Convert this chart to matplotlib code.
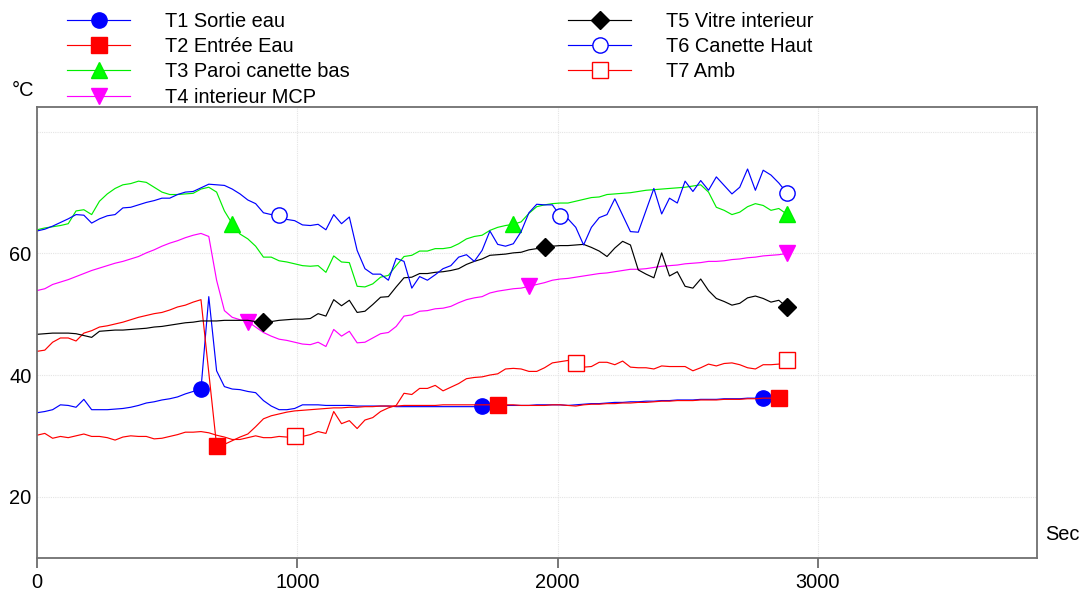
import numpy as np
import matplotlib.pyplot as plt

plt.rcParams["font.family"] = ["Liberation Sans", "DejaVu Sans"]

# sampling grid: one reading every 30 s
time = np.arange(0, 2881, 30)

t1_sortie_eau = [
    33.8, 34.0, 34.3, 35.1, 35.0, 34.7, 36.0, 34.3, 34.3, 34.3,
    34.4, 34.5, 34.7, 35.0, 35.4, 35.6, 35.9, 36.1, 36.4, 36.9,
    37.3, 37.7, 52.9, 40.7, 38.1, 37.7, 37.6, 37.3, 37.1, 35.8,
    34.9, 34.3, 34.3, 34.5, 35.1, 35.1, 35.1, 35.0, 35.0, 35.0,
    35.0, 34.9, 34.9, 34.9, 34.9, 34.9, 34.8, 34.8, 34.8, 34.8,
    34.8, 34.8, 34.8, 34.8, 34.8, 34.8, 34.8, 34.9, 34.9, 34.9,
    35.0, 35.0, 35.0, 35.0, 35.1, 35.1, 35.1, 35.1, 35.0, 35.1,
    35.2, 35.3, 35.3, 35.4, 35.5, 35.5, 35.6, 35.6, 35.7, 35.7,
    35.8, 35.8, 35.9, 35.9, 35.9, 36.0, 36.0, 36.0, 36.1, 36.1,
    36.1, 36.2, 36.2, 36.3, 36.3, 36.3, 36.3,
]
t2_entree_eau = [
    43.9, 44.1, 45.4, 46.1, 46.1, 45.6, 46.9, 47.3, 47.9, 48.1,
    48.4, 48.7, 49.1, 49.5, 49.8, 50.1, 50.3, 50.7, 51.2, 51.5,
    52.0, 52.4, 40.4, 28.4, 28.6, 29.2, 29.8, 30.3, 31.5, 32.8,
    33.3, 33.6, 33.9, 34.1, 34.2, 34.3, 34.4, 34.5, 34.6, 34.6,
    34.7, 34.7, 34.8, 34.8, 34.9, 34.9, 34.9, 35.0, 35.0, 35.0,
    35.0, 35.0, 35.1, 35.1, 35.1, 35.1, 35.1, 35.1, 35.1, 35.1,
    35.1, 35.1, 35.0, 35.0, 35.0, 35.0, 35.1, 35.1, 35.0, 34.9,
    35.1, 35.2, 35.2, 35.3, 35.3, 35.4, 35.4, 35.5, 35.5, 35.6,
    35.7, 35.7, 35.8, 35.8, 35.8, 35.9, 35.9, 35.9, 36.0, 36.0,
    36.0, 36.1, 36.1, 36.2, 36.2, 36.3, 36.3,
]
t3_paroi_bas = [
    63.9, 64.2, 64.4, 64.6, 64.9, 67.0, 67.2, 66.4, 68.6, 69.8,
    70.7, 71.3, 71.5, 71.9, 71.7, 70.9, 70.1, 69.7, 69.7, 69.8,
    69.9, 70.6, 70.9, 70.1, 67.0, 64.9, 63.2, 62.4, 61.2, 59.4,
    59.4, 58.8, 58.6, 58.3, 58.0, 57.9, 58.0, 56.9, 59.6, 58.6,
    58.5, 54.6, 54.5, 55.0, 56.1, 56.4, 58.0, 59.5, 59.7, 60.4,
    60.4, 60.8, 60.8, 61.0, 61.6, 62.4, 62.8, 63.0, 63.8, 64.3,
    64.6, 64.8, 65.2, 66.6, 67.7, 68.0, 68.2, 68.3, 68.3, 68.6,
    68.9, 69.2, 69.3, 69.7, 69.8, 69.9, 70.0, 70.2, 70.4, 70.5,
    70.6, 70.7, 70.8, 70.9, 71.1, 71.3, 70.1, 67.6, 67.1, 66.4,
    66.8, 67.7, 68.2, 67.9, 67.1, 67.4, 66.5,
]
t4_interieur_mcp = [
    53.9, 54.2, 54.9, 55.3, 55.7, 56.2, 56.7, 57.2, 57.6, 58.0,
    58.4, 58.7, 59.1, 59.5, 60.1, 60.6, 61.2, 61.7, 62.1, 62.6,
    63.0, 63.3, 62.8, 55.6, 50.6, 49.5, 49.1, 48.8, 47.9, 47.0,
    46.4, 45.9, 45.7, 45.4, 45.1, 45.0, 45.4, 44.7, 47.5, 46.4,
    47.2, 45.3, 45.4, 46.1, 46.8, 47.0, 48.0, 49.7, 49.9, 50.5,
    50.6, 50.9, 51.0, 51.3, 51.9, 52.4, 52.7, 52.9, 53.5, 53.8,
    54.0, 54.2, 54.3, 54.6, 54.9, 55.2, 55.6, 55.8, 55.9, 56.1,
    56.3, 56.5, 56.7, 56.8, 57.0, 57.2, 57.4, 57.4, 57.5, 57.7,
    57.9, 58.0, 58.1, 58.3, 58.4, 58.5, 58.7, 58.7, 58.8, 59.0,
    59.1, 59.3, 59.4, 59.6, 59.7, 59.8, 60.0,
]
t5_vitre_interieur = [
    46.7, 46.8, 46.9, 46.9, 46.9, 46.8, 46.5, 46.2, 47.2, 47.3,
    47.4, 47.4, 47.5, 47.6, 47.7, 47.9, 48.0, 48.2, 48.4, 48.6,
    48.7, 48.9, 48.9, 48.9, 49.0, 49.0, 49.0, 49.0, 48.8, 48.7,
    48.8, 49.0, 49.1, 49.2, 49.2, 49.3, 50.1, 49.7, 52.4, 51.4,
    52.3, 50.3, 50.5, 51.6, 52.8, 52.9, 54.5, 56.0, 56.1, 56.7,
    56.7, 56.9, 57.0, 57.2, 57.5, 58.2, 58.7, 59.1, 59.7, 59.8,
    59.9, 60.1, 60.2, 60.6, 60.8, 61.0, 61.2, 61.3, 61.3, 61.4,
    61.5, 61.0, 60.4, 59.5, 60.9, 62.0, 61.4, 57.3, 56.6, 56.0,
    60.1, 56.3, 57.0, 54.6, 54.3, 55.8, 53.9, 52.6, 52.1, 51.5,
    51.8, 52.7, 53.0, 52.6, 52.0, 52.3, 51.2,
]
t6_canette_haut = [
    63.7, 64.0, 64.5, 65.1, 65.7, 66.4, 66.3, 65.0, 65.7, 66.2,
    66.4, 67.5, 67.6, 68.0, 68.4, 68.7, 69.1, 69.1, 69.7, 70.1,
    70.2, 70.8, 71.4, 71.3, 71.2, 70.6, 69.8, 68.8, 68.2, 66.7,
    66.4, 66.3, 65.6, 65.4, 64.7, 64.6, 64.8, 63.9, 66.4, 64.9,
    66.0, 60.5, 57.5, 56.6, 56.6, 55.6, 59.2, 58.7, 54.3, 56.2,
    55.6, 56.5, 57.5, 58.0, 59.4, 59.8, 58.7, 60.5, 63.7, 61.5,
    61.2, 61.6, 63.6, 66.7, 68.1, 68.0, 68.0, 66.2, 65.7, 64.3,
    61.4, 64.3, 65.9, 66.4, 69.0, 66.3, 63.6, 63.5, 67.1, 70.7,
    66.5, 69.1, 68.3, 71.9, 70.2, 72.0, 70.4, 72.6, 71.2, 69.8,
    70.9, 73.9, 70.4, 73.7, 72.9, 71.6, 70.0,
]
t7_amb = [
    30.1, 30.4, 29.6, 29.9, 29.7, 30.0, 30.3, 29.9, 29.9, 29.7,
    29.3, 29.8, 30.0, 29.9, 29.9, 29.5, 29.6, 29.9, 30.2, 30.6,
    30.6, 30.7, 30.5, 30.1, 29.8, 29.4, 29.4, 29.7, 30.0, 29.7,
    29.7, 29.9, 29.8, 29.9, 29.9, 30.2, 30.7, 30.4, 34.0, 32.0,
    32.5, 31.2, 32.6, 33.0, 34.0, 34.6, 35.0, 37.0, 36.8, 37.8,
    37.8, 38.3, 37.4, 38.0, 38.6, 39.4, 39.6, 39.7, 40.0, 40.2,
    41.0, 41.1, 41.0, 40.6, 40.6, 41.2, 42.0, 42.2, 42.4, 41.9,
    41.3, 41.4, 42.1, 42.1, 41.7, 42.3, 41.3, 41.2, 41.2, 41.0,
    41.5, 41.4, 41.4, 41.4, 40.7, 41.2, 41.8, 41.5, 41.9, 42.0,
    41.7, 41.2, 41.0, 41.7, 41.7, 41.8, 42.5,
]

# times (s) at which each curve carries its symbol
marks_t1 = [630, 1710, 2790]
marks_t2 = [690, 1770, 2850]
marks_t3 = [750, 1830, 2880]
marks_t4 = [810, 1890, 2880]
marks_t5 = [870, 1950, 2880]
marks_t6 = [930, 2010, 2880]
marks_t7 = [990, 2070, 2880]

series = [
    ("T1 Sortie eau", t1_sortie_eau, marks_t1, "#0000ff", "o", "#0000ff", 11),
    ("T2 Entrée Eau", t2_entree_eau, marks_t2, "#ff0000", "s", "#ff0000", 11),
    ("T3 Paroi canette bas", t3_paroi_bas, marks_t3, "#00ee00", "^", "#00ff00", 12),
    ("T4 interieur MCP", t4_interieur_mcp, marks_t4, "#ff00ff", "v", "#ff00ff", 12),
    ("T5 Vitre interieur", t5_vitre_interieur, marks_t5, "#000000", "D", "#000000", 9),
    ("T6 Canette Haut", t6_canette_haut, marks_t6, "#0000ff", "o", "white", 11),
    ("T7 Amb", t7_amb, marks_t7, "#ff0000", "s", "white", 11),
]

fig = plt.figure(figsize=(10.86, 5.94), dpi=100)
ax = fig.add_axes([37 / 1086, 1 - 558 / 594, 1000 / 1086, 451 / 594])

handles = []
for label, vals, marks, color, marker, face, ms in series:
    idx = list(np.searchsorted(time, marks))
    (ln,) = ax.plot(time, vals, color=color, lw=0.85, marker=marker,
                    markevery=idx, ms=ms, mfc=face, mec=color, mew=1.0,
                    label=label)
    handles.append(ln)

ax.set_xlim(0, 3842)
ax.set_ylim(9.9, 84.1)
ax.set_xticks([0, 1000, 2000, 3000])
ax.set_yticks([20, 40, 60, 80])
ax.set_yticklabels(["20", "40", "60", ""])
ax.grid(True, color="#e4e4e4", lw=0.8, ls=(0, (1, 1)))
ax.set_axisbelow(True)
ax.tick_params(axis="x", direction="out", length=7, width=1.2,
               color="#606060", labelsize=14.4, pad=4)
ax.tick_params(axis="y", length=0, labelsize=14.4, pad=4)
for sp in ax.spines.values():
    sp.set_color("#707070")
    sp.set_linewidth(1.3)

fig.text(12 / 1086, 1 - 90 / 594, "°C", fontsize=14.4, va="center", ha="left")
fig.text(1045 / 1086, 1 - 535 / 594, "Sec", fontsize=14.4, va="center", ha="left")

leg_kw = dict(frameon=False, fontsize=14.4, numpoints=1, handlelength=3.15,
              handletextpad=1.75, labelspacing=0.31, borderpad=0,
              borderaxespad=0, loc="upper left")
fig.legend(handles=handles[:4], bbox_to_anchor=(67 / 1086, 1 - 12 / 594), **leg_kw)
fig.legend(handles=handles[4:], bbox_to_anchor=(568 / 1086, 1 - 12 / 594), **leg_kw)

fig.savefig("out.png", dpi=100)
